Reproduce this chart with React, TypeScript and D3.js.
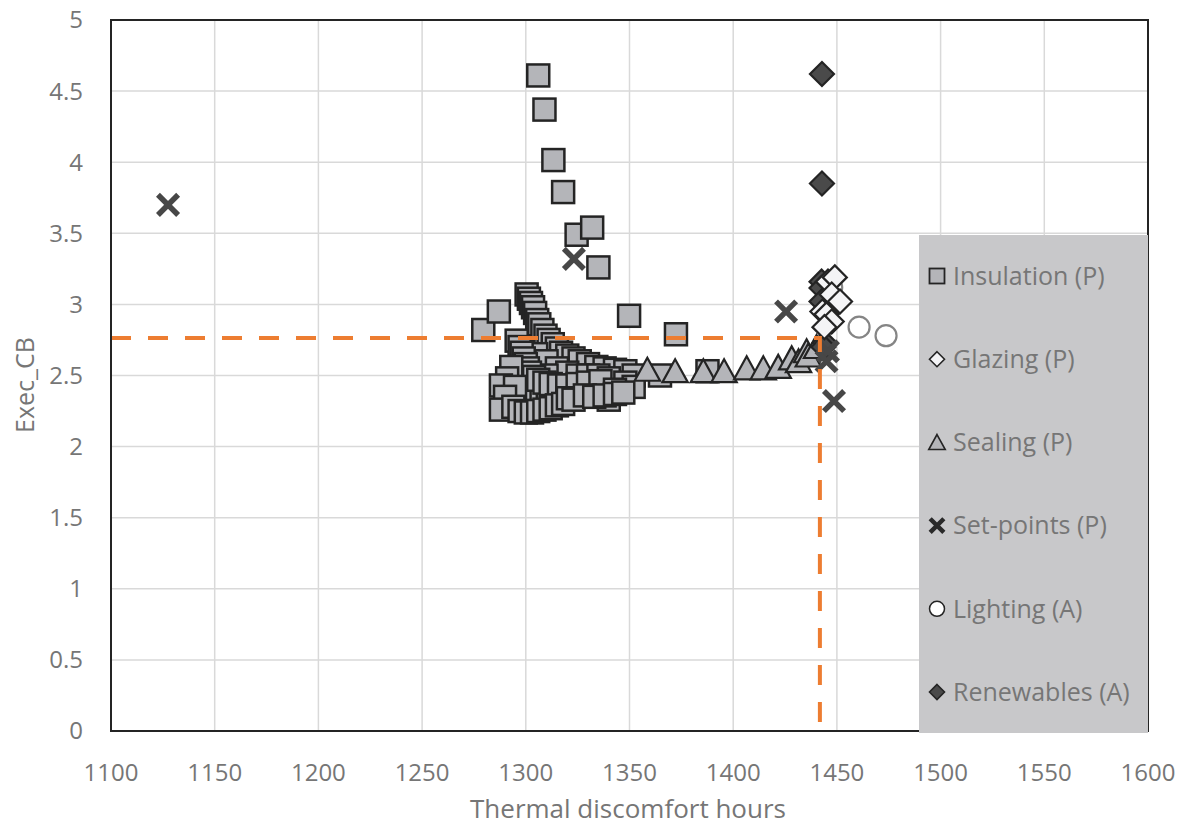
import * as d3 from "d3";

type Pt = [number, number];

// Thermal discomfort hours vs Exec_CB
const insulation: Pt[] = [
  [1306, 4.61], [1309, 4.37], [1313.3, 4.015], [1318, 3.79], [1324.5, 3.49],
  [1332, 3.54], [1335, 3.26], [1349.8, 2.92], [1372.4, 2.79], [1279.5, 2.82],
  [1287, 2.95], [1300.4, 3.07],
  // upper arm
  [1301.5, 3.04], [1302.5, 3.01], [1303.5, 2.98], [1304.5, 2.94], [1305.5, 2.89],
  [1306.5, 2.86], [1308, 2.82], [1309.5, 2.78], [1311, 2.75], [1313, 2.72],
  [1315, 2.69], [1317, 2.66], [1320, 2.64], [1323, 2.62], [1326, 2.6],
  [1330, 2.58], [1334, 2.56], [1338, 2.55], [1343, 2.54], [1348, 2.53], [1352, 2.5],
  // interior
  [1305, 2.65], [1310, 2.6], [1315, 2.55], [1320, 2.52], [1325, 2.5],
  [1330, 2.5], [1335, 2.5], [1340, 2.48], [1310, 2.5], [1315, 2.38],
  [1305, 2.35], [1310, 2.32], [1325, 2.38], [1300, 2.4], [1297, 2.33],
  [1348, 2.45], [1352, 2.42], [1340, 2.33],
  // middle band
  [1295.6, 2.745], [1297, 2.7], [1298, 2.66], [1299, 2.62], [1300, 2.58],
  [1301, 2.55], [1302, 2.52], [1304, 2.49], [1306, 2.47], [1309, 2.45],
  [1312, 2.44], [1316, 2.43], [1320, 2.43], [1325, 2.44], [1330, 2.45],
  [1336, 2.46], [1343, 2.4],
  // left column
  [1293, 2.56], [1291, 2.48], [1288, 2.43], [1294.8, 2.42], [1290, 2.35],
  [1288, 2.26], [1294, 2.28],
  // lower arm
  [1297, 2.25], [1300, 2.24], [1303, 2.24], [1306, 2.25], [1309, 2.26],
  [1312, 2.27], [1315, 2.29], [1318, 2.3], [1320.3, 2.34], [1323, 2.33],
  [1328.5, 2.36], [1333, 2.35], [1338, 2.36], [1343, 2.37], [1347, 2.38],
  [1364.7, 2.5], [1387.6, 2.53],
];

const sealing: Pt[] = [
  [1358.6, 2.54], [1372, 2.53], [1385.6, 2.53], [1395.6, 2.53], [1406.5, 2.55],
  [1414.5, 2.55], [1421.7, 2.56], [1428.2, 2.62], [1431.5, 2.6], [1435.4, 2.67],
  [1436.2, 2.64], [1440.2, 2.7],
];

const glazing: Pt[] = [
  [1445.7, 3.16], [1449, 3.19], [1447.5, 3.07], [1451.5, 3.02], [1443, 2.95],
  [1445, 2.93], [1447.5, 2.88], [1444, 2.84],
];

const setPoints: Pt[] = [
  [1127.5, 3.7], [1323.2, 3.32], [1425.5, 2.95], [1445.7, 2.67], [1445, 2.6],
  [1448.6, 2.32],
];

const lighting: Pt[] = [
  [1447.5, 3.12], [1460.7, 2.84], [1473.7, 2.78],
];

const renewables: Pt[] = [
  [1442.8, 4.62], [1442.8, 3.85], [1442.6, 3.16], [1442.6, 3.115], [1442.6, 3.02],
  [1444.1, 2.73], [1443.5, 2.7],
];

const selected: Pt = [1441.8, 2.764];

const xTicks = [1100, 1150, 1200, 1250, 1300, 1350, 1400, 1450, 1500, 1550, 1600];
const yTicks = [0, 0.5, 1, 1.5, 2, 2.5, 3, 3.5, 4, 4.5, 5];

const legendLabels = [
  "Insulation (P)", "Glazing (P)", "Sealing (P)",
  "Set-points (P)", "Lighting (A)", "Renewables (A)",
];

const FONT = "'Open Sans', 'Noto Sans', sans-serif";
const TEXT = "#767676";
const GREY = "#b4b5b9";
const DARK = "#242424";

function Marker({ kind, x, y, s }: { kind: string; x: number; y: number; s: number }) {
  const h = s / 2;
  const big = s > 19;
  switch (kind) {
    case "square":
      return <rect x={x - h} y={y - h} width={s} height={s} fill={GREY} stroke={DARK} strokeWidth={big ? 2.5 : 1.8} />;
    case "diamond":
      return <path d={`M${x},${y - h}L${x + h},${y}L${x},${y + h}L${x - h},${y}Z`} fill="#f4f4f6" stroke={DARK} strokeWidth={big ? 2.2 : 1.6} />;
    case "triangle":
      return <path d={`M${x},${y - h * 1.05}L${x + h * 1.1},${y + h * 0.95}L${x - h * 1.1},${y + h * 0.95}Z`} fill={GREY} stroke={DARK} strokeWidth={big ? 2.2 : 1.6} />;
    case "cross": {
      const c = h * 0.72;
      return <path d={`M${x - c},${y - c}L${x + c},${y + c}M${x - c},${y + c}L${x + c},${y - c}`} stroke={big ? "#474747" : "#2a2a2a"} strokeWidth={big ? 5.5 : 4.5} fill="none" />;
    }
    case "circle":
      return <circle cx={x} cy={y} r={h} fill="#ffffff" stroke={big ? "#858585" : DARK} strokeWidth={big ? 2.2 : 1.5} />;
    case "dark":
      return <path d={`M${x},${y - h}L${x + h},${y}L${x},${y + h}L${x - h},${y}Z`} fill="#4a4a4a" stroke={DARK} strokeWidth={big ? 2.2 : 1.6} />;
  }
  return null;
}

export default function App() {
  const W = 1186;
  const H = 825;
  const left = 111, right = 1148, top = 20, bottom = 731;

  const x = d3.scaleLinear().domain([1100, 1600]).range([left, right]);
  const y = d3.scaleLinear().domain([0, 5]).range([bottom, top]);

  const series: { kind: string; data: Pt[]; s: number }[] = [
    { kind: "square", data: insulation, s: 22 },
    { kind: "triangle", data: sealing, s: 23 },
    { kind: "circle", data: lighting, s: 21 },
    { kind: "dark", data: renewables, s: 24 },
    { kind: "diamond", data: glazing, s: 24 },
    { kind: "cross", data: setPoints, s: 28 },
  ];
  const legendKinds = ["square", "diamond", "triangle", "cross", "circle", "dark"];
  const legendSizes = [15, 15, 15, 19, 15, 15];

  const legX = 919, legY = 235, legW = right - legX, legH = 498;
  const itemY = d3.scaleLinear().domain([0, 5]).range([276, 692]);

  return (
    <div style={{ position: "fixed", left: 0, top: 0 }}>
      <svg width={W} height={H} style={{ display: "block", background: "#fff" }}>
        {/* grid */}
        {xTicks.map((t) => (
          <line key={"gx" + t} x1={x(t)} x2={x(t)} y1={top} y2={bottom} stroke="#d9d9d9" strokeWidth={1.5} />
        ))}
        {yTicks.map((t) => (
          <line key={"gy" + t} x1={left} x2={right} y1={y(t)} y2={y(t)} stroke="#d9d9d9" strokeWidth={1.5} />
        ))}

        {/* markers */}
        {series.map((sr) =>
          sr.data.map((d, i) => (
            <Marker key={sr.kind + i} kind={sr.kind} x={x(d[0])} y={y(d[1])} s={sr.s} />
          ))
        )}

        {/* selected solution guide lines */}
        <path
          d={`M${left},${y(selected[1])}H${x(selected[0])}V${bottom}`}
          fill="none"
          stroke="#ed7d31"
          strokeWidth={4}
          strokeDasharray="20 17"
        />

        {/* plot frame */}
        <rect x={left} y={top} width={right - left} height={bottom - top} fill="none" stroke={DARK} strokeWidth={2} />

        {/* legend */}
        <rect x={legX} y={legY} width={legW} height={legH} fill="#c8c8ca" />
        {legendLabels.map((lab, i) => (
          <g key={lab}>
            <Marker kind={legendKinds[i]} x={937} y={itemY(i)} s={legendSizes[i]} />
            <text x={953} y={itemY(i)} dy="0.35em" fontFamily={FONT} fontSize={25} fill={TEXT}>
              {lab}
            </text>
          </g>
        ))}

        {/* tick labels */}
        {yTicks.map((t) => (
          <text key={"ty" + t} x={83} y={y(t)} dy="0.35em" textAnchor="end" fontFamily={FONT} fontSize={24} fill={TEXT}>
            {t}
          </text>
        ))}
        {xTicks.map((t) => (
          <text key={"tx" + t} x={x(t)} y={773} dy="0.35em" textAnchor="middle" fontFamily={FONT} fontSize={24} fill={TEXT}>
            {t}
          </text>
        ))}

        {/* axis titles */}
        <text x={628} y={809} dy="0.35em" textAnchor="middle" fontFamily={FONT} fontSize={26} fill={TEXT}>
          Thermal discomfort hours
        </text>
        <text transform={`translate(25,${385}) rotate(-90)`} dy="0.35em" textAnchor="middle" fontFamily={FONT} fontSize={25} fill={TEXT}>
          Exec_CB
        </text>
      </svg>
    </div>
  );
}
